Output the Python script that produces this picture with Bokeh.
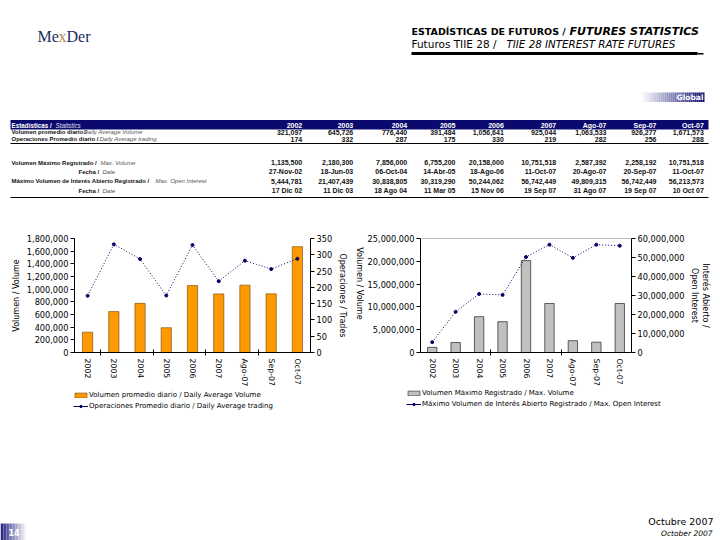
import math
from bokeh.plotting import figure
from bokeh.layouts import column, row
from bokeh.models import (Range1d, LinearAxis, FixedTicker, NumeralTickFormatter,
                          Legend, LegendItem, Span)
from bokeh.core.properties import value
from bokeh.embed import file_html
from bokeh.resources import INLINE

# ---------------- data ----------------
categories = ["2002", "2003", "2004", "2005", "2006", "2007", "Ago-07", "Sep-07", "Oct-07"]
avg_volume = [321097, 645726, 776440, 391484, 1056641, 925044, 1063533, 926277, 1671573]
avg_trades = [174, 332, 287, 175, 330, 219, 282, 256, 288]
max_volume = [1135500, 2180300, 7856000, 6755200, 20158000, 10751518, 2587392, 2258192, 10751518]
max_volume_date = ["27-Nov-02", "18-Jun-03", "06-Oct-04", "14-Abr-05", "18-Ago-06",
                   "11-Oct-07", "20-Ago-07", "20-Sep-07", "11-Oct-07"]
max_open_interest = [5444781, 21407439, 30838805, 30319290, 50244062, 56742449,
                     49809315, 56742449, 56213573]
max_open_interest_date = ["17 Dic 02", "11 Dic 03", "18 Ago 04", "11 Mar 05", "15 Nov 06",
                          "19 Sep 07", "31 Ago 07", "19 Sep 07", "10 Oct 07"]

NAVY = "#0a0a6e"
ORANGE = "#FF9900"
GRAY = "#C0C0C0"
LINE = "#000066"
SANS = value("DejaVu Sans")
ARIAL = value("Liberation Sans")
SERIF = value("Liberation Serif")

def fmt(n):
    return f"{n:,}"

def bare(p):
    p.axis.visible = False
    p.grid.visible = False
    p.outline_line_color = None

# ---------------- top figure (header + table) ----------------
top = figure(width=720, height=225, x_range=Range1d(0, 720), y_range=Range1d(225, 0),
             toolbar_location=None, output_backend="svg", min_border=0)
bare(top)

# logo
top.text(x=[37], y=[36], text=["Me"], text_font=SERIF, text_font_size="16px",
         text_color="#1c2b5e", text_baseline="middle")
top.text(x=[58], y=[36], text=["x"], text_font=SERIF, text_font_size="16px",
         text_color="#b08a4a", text_baseline="middle")
top.text(x=[66], y=[36], text=["Der"], text_font=SERIF, text_font_size="16px",
         text_color="#1c2b5e", text_baseline="middle")

# titles
top.text(x=[411], y=[31], text=["ESTADÍSTICAS DE FUTUROS / "], text_font=SANS,
         text_font_size="9.5px", text_font_style="bold", text_baseline="middle", text_color="#000000")
top.text(x=[569], y=[31], text=["FUTURES STATISTICS"], text_font=SANS,
         text_font_size="11px", text_font_style="bold italic", text_baseline="middle", text_color="#000000")
top.text(x=[411], y=[43], text=["Futuros TIIE 28 / "], text_font=SANS,
         text_font_size="10.5px", text_baseline="middle", text_color="#000000")
top.text(x=[506], y=[43], text=["TIIE 28 INTEREST RATE FUTURES"], text_font=SANS,
         text_font_size="10.3px", text_font_style="italic", text_baseline="middle", text_color="#000000")
top.quad(left=[411], right=[697], top=[51.5], bottom=[54.5], fill_color="#000000", line_color=None)
top.quad(left=[697], right=[703], top=[52.5], bottom=[54], fill_color="#000000", line_color=None)

# "Global" gradient tab
n = 32
gl, gr, gc = [], [], []
for i in range(n):
    t = i / (n - 1)
    r = int(255 + (10 - 255) * t)
    g = int(255 + (10 - 255) * t)
    b = int(255 + (110 - 255) * t)
    gl.append(640 + i * 2)
    gr.append(642 + i * 2)
    gc.append(f"#{r:02x}{g:02x}{b:02x}")
top.quad(left=gl, right=gr, top=[92] * n, bottom=[101.5] * n, fill_color=gc, line_color=None)
top.text(x=[703], y=[97], text=["Global"], text_font=SANS, text_font_size="7.5px",
         text_font_style="bold", text_color="#ffffff", text_align="right", text_baseline="middle")

# table
col_x = [301.7, 352.7, 406.7, 455, 503.3, 555.7, 606, 656, 703.3]
top.quad(left=[10], right=[708], top=[119.5], bottom=[129], fill_color=NAVY, line_color=None)
top.text(x=[11], y=[124.5], text=["Estadísticas / "], text_font=ARIAL, text_font_size="6.3px",
         text_font_style="bold", text_color="#ffffff", text_baseline="middle")
top.text(x=[55], y=[124.5], text=["Statistics"], text_font=ARIAL, text_font_size="6.3px",
         text_font_style="italic", text_color="#e0e0f0", text_baseline="middle")
top.text(x=col_x, y=[124.5] * 9, text=categories, text_font=ARIAL, text_font_size="7px",
         text_font_style="bold", text_color="#ffffff", text_align="right", text_baseline="middle")

rows = [
    (131.5, "Volumen promedio diario / ", "Daily Average Volume", 11, 83, [fmt(v) for v in avg_volume]),
    (138.5, "Operaciones Promedio diario / ", "Daily Average trading", 11, 99, [str(v) for v in avg_trades]),
    (162, "Volumen Máximo Registrado / ", "Max. Volume", 11, 100, [fmt(v) for v in max_volume]),
    (171.3, "Fecha / ", "Date", 78, 102, max_volume_date),
    (180.7, "Máximo Volumen de Interés Abierto Registrado / ", "Max. Open Interest", 11, 155, [fmt(v) for v in max_open_interest]),
    (190, "Fecha / ", "Date", 78, 102, max_open_interest_date),
]
for (yy, es, en, x0, x1, vals) in rows:
    top.text(x=[x0], y=[yy], text=[es], text_font=ARIAL, text_font_size="6px",
             text_font_style="bold", text_color="#111111", text_baseline="middle")
    top.text(x=[x1], y=[yy], text=[en], text_font=ARIAL, text_font_size="6px",
             text_font_style="italic", text_color="#555555", text_baseline="middle")
    top.text(x=col_x, y=[yy] * 9, text=vals, text_font=ARIAL, text_font_size="7px",
             text_font_style="bold", text_color="#111111", text_align="right", text_baseline="middle")

top.segment(x0=[10, 10], y0=[143, 197], x1=[708, 708], y1=[143, 197],
            line_color="#000000", line_width=1)

# ---------------- chart helpers ----------------
xs = list(range(len(categories)))

def style_common(p):
    p.grid.visible = False
    p.outline_line_color = None
    p.background_fill_color = "#ffffff"
    p.border_fill_color = "#ffffff"

def style_yaxis(ax, ticks):
    ax.ticker = FixedTicker(ticks=ticks)
    ax.formatter = NumeralTickFormatter(format="0,0")
    ax.major_label_text_font = "DejaVu Sans"
    ax.major_label_text_font_size = "8.2px"
    ax.major_label_text_color = "#000000"
    ax.major_tick_in = 0
    ax.major_tick_out = 4
    ax.minor_tick_line_color = None
    ax.minor_tick_out = 0
    ax.minor_tick_in = 0
    ax.major_label_standoff = 2
    ax.axis_label_standoff = 3
    ax.axis_label_text_font = "DejaVu Sans"
    ax.axis_label_text_font_size = "8px"
    ax.axis_label_text_font_style = "normal"
    ax.axis_label_text_color = "#000000"
    ax.axis_line_color = "#000000"
    ax.major_tick_line_color = "#000000"

def style_xaxis(ax, minor):
    ax.ticker = FixedTicker(ticks=xs, minor_ticks=minor)
    ax.major_label_overrides = {i: c for i, c in enumerate(categories)}
    ax.major_tick_line_color = None
    ax.major_tick_in = 0
    ax.major_tick_out = 3
    ax.minor_tick_in = 3
    ax.minor_tick_out = 3
    ax.minor_tick_line_color = "#000000"
    ax.major_label_orientation = -math.pi / 2
    ax.major_label_text_font = "DejaVu Sans"
    ax.major_label_text_font_size = "7.8px"
    ax.major_label_text_color = "#000000"
    ax.major_label_standoff = 3
    ax.axis_line_color = "#000000"

def style_legend(lg):
    lg.glyph_width = 15
    lg.glyph_height = 6
    lg.label_text_font = "DejaVu Sans"
    lg.label_text_font_size = "7px"
    lg.label_text_color = "#000000"
    lg.label_height = 8
    lg.label_standoff = 1
    lg.spacing = 3
    lg.padding = 0
    lg.margin = 0
    lg.border_line_color = None
    lg.background_fill_alpha = 0

CH = 165  # chart row height (ref y 225..390)

# ---------------- left chart ----------------
left = figure(width=350, height=CH, x_range=Range1d(-0.5, 8.5), y_range=Range1d(0, 1800000),
              toolbar_location=None, output_backend="svg",
              min_border_left=74, min_border_right=37, min_border_top=12, min_border_bottom=38)
style_common(left)
left.extra_y_ranges = {"trades": Range1d(0, 350)}
left.vbar(x=xs, top=avg_volume, width=0.39, fill_color=ORANGE,
          line_color="#6a4300", line_width=0.6)
left.line(xs, avg_trades, y_range_name="trades", line_dash="1 2", line_color=LINE, line_width=1)
left.scatter(xs, avg_trades, y_range_name="trades", size=3, color=LINE)
style_yaxis(left.yaxis[0], list(range(0, 1800001, 200000)))
left.yaxis[0].axis_label = "Volumen / Volume"
ax_r = LinearAxis(y_range_name="trades")
style_yaxis(ax_r, list(range(0, 351, 50)))
ax_r.axis_label = "Operaciones / Trades"
left.add_layout(ax_r, "right")
style_xaxis(left.xaxis[0], [0.5, 2.5, 4.5, 6.5])

# ---------------- spacer with rotated axis title of the right chart ----------------
mid = figure(width=14, height=CH, x_range=Range1d(350, 364), y_range=Range1d(390, 225),
             toolbar_location=None, output_backend="svg", min_border=0)
bare(mid)
mid.text(x=[358.5], y=[290], text=["Volumen / Volume"], angle=-math.pi / 2,
         text_font=SANS, text_font_size="8px", text_color="#000000",
         text_align="center", text_baseline="middle")

# ---------------- right chart ----------------
right = figure(width=356, height=CH, x_range=Range1d(-0.5, 8.5), y_range=Range1d(0, 25000000),
               toolbar_location=None, output_backend="svg",
               min_border_left=56, min_border_right=89, min_border_top=13, min_border_bottom=38)
style_common(right)
right.extra_y_ranges = {"oi": Range1d(0, 60000000)}
right.add_layout(Span(location=25000000, dimension="width", line_color="#808080", line_width=1))
right.vbar(x=xs, top=max_volume, width=0.4, fill_color=GRAY, line_color="#222222", line_width=0.7)
right.line(xs, max_open_interest, y_range_name="oi", line_dash="1 2", line_color=LINE, line_width=1)
right.scatter(xs, max_open_interest, y_range_name="oi", size=3, color=LINE)
style_yaxis(right.yaxis[0], list(range(0, 25000001, 5000000)))
ax_r2 = LinearAxis(y_range_name="oi")
style_yaxis(ax_r2, list(range(0, 60000001, 10000000)))
ax_r2.axis_label = "Interés Abierto /\nOpen Interest"
right.add_layout(ax_r2, "right")
style_xaxis(right.xaxis[0], [2.5, 5.5])

# ---------------- legend strips (ref y 390..420) ----------------
def legend_strip(width, bar_color, bar_line, labels, loc):
    f = figure(width=width, height=30, x_range=Range1d(0, 1), y_range=Range1d(0, 1),
               toolbar_location=None, output_backend="svg", min_border=0)
    bare(f)
    # swatch renderers (their single sample lies outside the visible range)
    rb = f.vbar(x=[-5], top=[-5], bottom=[-6], width=0.4, fill_color=bar_color,
                line_color=bar_line, line_width=0.6)
    rl = f.line(x=[-5, -4], y=[-5, -5], line_color=LINE, line_width=1)
    rs = f.scatter(x=[-5], y=[-5], size=3, color=LINE)
    lg = Legend(items=[LegendItem(label=labels[0], renderers=[rb]),
                       LegendItem(label=labels[1], renderers=[rl, rs])], location=loc)
    style_legend(lg)
    f.add_layout(lg)
    return f

leg_left = legend_strip(364, ORANGE, "#6a4300",
                        ["Volumen promedio diario / Daily Average Volume",
                         "Operaciones Promedio diario / Daily Average trading"], (73, 10))
leg_right = legend_strip(356, GRAY, "#222222",
                         ["Volumen Máximo Registrado / Max. Volume",
                          "Máximo Volumen de Interés Abierto Registrado / Max. Open Interest"], (42, 12))

# ---------------- bottom figure (footer) ----------------
bottom = figure(width=720, height=120, x_range=Range1d(0, 720), y_range=Range1d(540, 420),
                toolbar_location=None, output_backend="svg", min_border=0)
bare(bottom)
m = 18
bl, br, bc = [], [], []
for i in range(m):
    t = i / (m - 1)
    r = int(40 + (255 - 40) * t)
    g = int(40 + (255 - 40) * t)
    b = int(130 + (255 - 130) * t)
    bl.append(i * 1.5)
    br.append(1.5 + i * 1.5)
    bc.append(f"#{r:02x}{g:02x}{b:02x}")
bottom.quad(left=bl, right=br, top=[523] * m, bottom=[540] * m, fill_color=bc, line_color=None)
bottom.text(x=[8], y=[532], text=["14"], text_font=SANS, text_font_size="8px",
            text_font_style="bold", text_color="#ffffff", text_baseline="middle")
bottom.text(x=[713], y=[521], text=["Octubre 2007"], text_font=SANS, text_font_size="9.5px",
            text_color="#000000", text_align="right", text_baseline="middle")
bottom.text(x=[712], y=[533], text=["October 2007"], text_font=SANS, text_font_size="7.5px",
            text_font_style="italic", text_color="#000000", text_align="right", text_baseline="middle")

layout = column(top,
                row(left, mid, right, spacing=0),
                row(leg_left, leg_right, spacing=0),
                bottom, spacing=0)
open("out.html", "w").write(file_html(layout, INLINE))
